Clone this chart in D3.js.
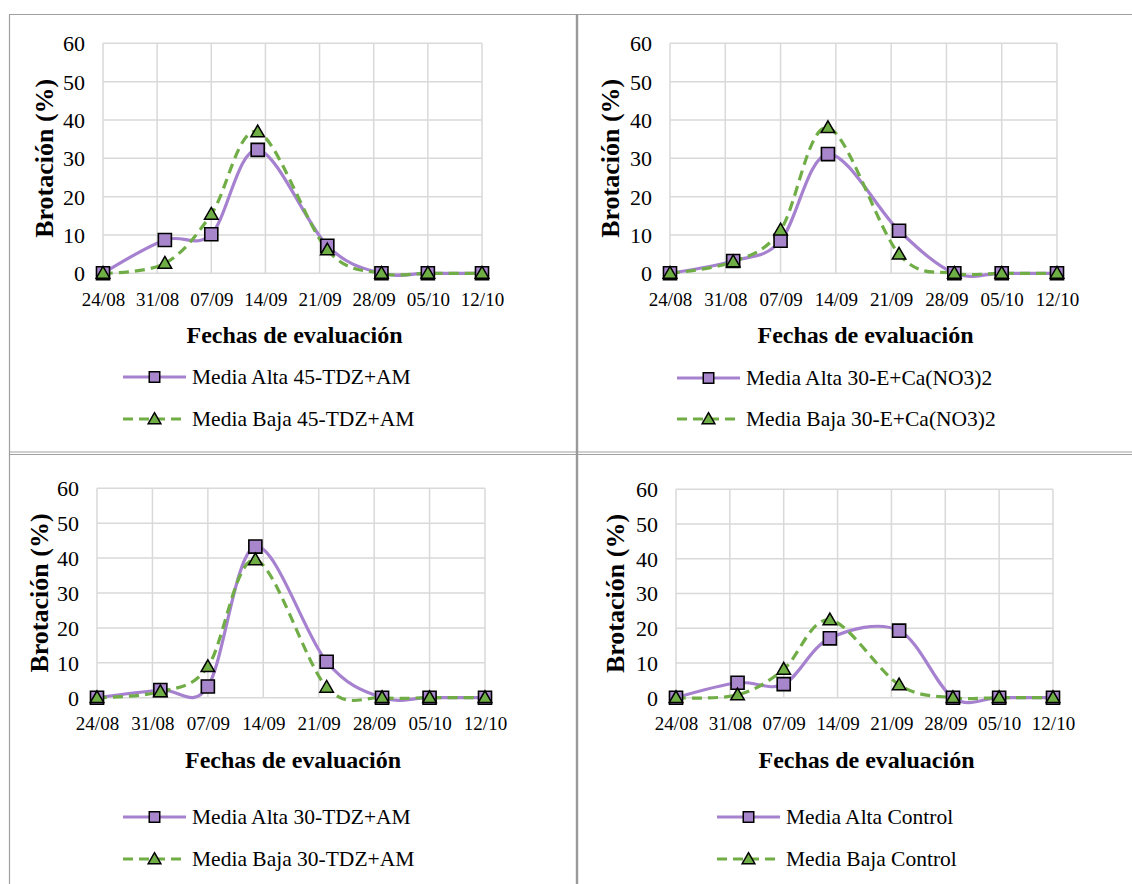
<!DOCTYPE html>
<html>
<head>
<meta charset="utf-8">
<script src="https://cdn.jsdelivr.net/npm/d3@7"></script>
<style>
  html, body { margin: 0; padding: 0; background: #fff; }
  svg { display: block; }
  text { font-family: "Liberation Serif", "Times New Roman", serif; fill: #000; }
</style>
</head>
<body>
<svg id="chart" width="1132" height="884"></svg>
<script>
// Evaluation dates (day/month) and axis tick dates
const sampleDates = ["24/08", "01/09", "07/09", "13/09", "22/09", "29/09", "05/10", "12/10"];
const tickDates   = ["24/08", "31/08", "07/09", "14/09", "21/09", "28/09", "05/10", "12/10"];
const yTicks = [0, 10, 20, 30, 40, 50, 60];

// Treatment names
const treatments = ["45-TDZ+AM", "30-E+Ca(NO3)2", "30-TDZ+AM", "Control"];

// Sprouting (%) per evaluation date
const altaTDZ45   = [0, 8.7, 10.2, 32.2, 7.2, 0, 0, 0];
const bajaTDZ45   = [0, 2.6, 15.4, 36.9, 6.1, 0, 0, 0];
const altaECa30   = [0, 3.2, 8.5, 31.1, 11.1, 0, 0, 0];
const bajaECa30   = [0, 3.0, 11.3, 38.0, 5.0, 0, 0, 0];
const altaTDZ30   = [0, 2.2, 3.2, 43.3, 10.3, 0, 0, 0];
const bajaTDZ30   = [0, 1.7, 8.9, 39.5, 3.0, 0, 0, 0];
const altaControl = [0, 4.3, 3.9, 17.1, 19.3, 0, 0, 0];
const bajaControl = [0, 0.8, 8.2, 22.4, 3.7, 0, 0, 0];

const altaSeries = [altaTDZ45, altaECa30, altaTDZ30, altaControl];
const bajaSeries = [bajaTDZ45, bajaECa30, bajaTDZ30, bajaControl];

const parseDM = s => d3.timeParse("%d/%m/%Y")(s + "/2021");

// Panel geometry
const panels = [
  { left: 103, right: 482,  top: 43.3,  bottom: 273.3, yTitleX: 44,  legendX: 123, legendY: [377, 419] },
  { left: 670, right: 1057, top: 43.3,  bottom: 273.3, yTitleX: 610, legendX: 677, legendY: [378, 419] },
  { left: 97,  right: 485,  top: 488.3, bottom: 697.7, yTitleX: 39,  legendX: 123, legendY: [817, 859] },
  { left: 676, right: 1053, top: 489.3, bottom: 697.7, yTitleX: 615, legendX: 717, legendY: [817, 859] }
];

const purple = "#A681CF";
const purpleFill = "#A886CC";
const green = "#70AD47";
const greenFill = "#6FAE45";

const svg = d3.select("#chart");

// Cell borders
const borders = svg.append("g").attr("fill", "none");
borders.append("line").attr("x1", 9).attr("x2", 1132).attr("y1", 14.5).attr("y2", 14.5).attr("stroke", "#a0a0a0").attr("stroke-width", 1.2);
borders.append("line").attr("x1", 9.5).attr("x2", 9.5).attr("y1", 14).attr("y2", 884).attr("stroke", "#a0a0a0").attr("stroke-width", 1.2);
borders.append("line").attr("x1", 9).attr("x2", 1132).attr("y1", 452).attr("y2", 452).attr("stroke", "#a0a0a0").attr("stroke-width", 1);
borders.append("line").attr("x1", 9).attr("x2", 1132).attr("y1", 454.5).attr("y2", 454.5).attr("stroke", "#a0a0a0").attr("stroke-width", 1);
borders.append("line").attr("x1", 577).attr("x2", 577).attr("y1", 14).attr("y2", 884).attr("stroke", "#9a9a9a").attr("stroke-width", 2.4);

const squareSym = d3.symbol().type(d3.symbolSquare);
const triSym = d3.symbol().type(d3.symbolTriangle);

panels.forEach((p, i) => {
  const g = svg.append("g");
  const x = d3.scaleTime()
    .domain([parseDM(tickDates[0]), parseDM(tickDates[tickDates.length - 1])])
    .range([p.left, p.right]);
  const y = d3.scaleLinear().domain([0, 60]).range([p.bottom, p.top]);

  // Gridlines
  g.append("g").selectAll("line").data(yTicks).join("line")
    .attr("x1", p.left).attr("x2", p.right)
    .attr("y1", d => y(d)).attr("y2", d => y(d))
    .attr("stroke", "#d9d9d9").attr("stroke-width", 1.5);
  g.append("g").selectAll("line").data(tickDates).join("line")
    .attr("x1", d => x(parseDM(d))).attr("x2", d => x(parseDM(d)))
    .attr("y1", p.top).attr("y2", p.bottom)
    .attr("stroke", "#d9d9d9").attr("stroke-width", 1.5);

  // Y axis
  const yAxis = d3.axisLeft(y).tickValues(yTicks).tickSize(0).tickPadding(18);
  const ya = g.append("g").attr("transform", `translate(${p.left},0)`).call(yAxis);
  ya.select(".domain").remove();
  ya.selectAll("text").style("font-family", "Liberation Serif").style("font-size", "22px").attr("fill", "#000").attr("dy", "0.34em");

  // X axis
  const xAxis = d3.axisBottom(x).tickValues(tickDates.map(parseDM)).tickFormat(d3.timeFormat("%d/%m")).tickSize(0).tickPadding(0);
  const xa = g.append("g").attr("transform", `translate(0,${p.bottom})`).call(xAxis);
  xa.select(".domain").remove();
  xa.selectAll("text").style("font-family", "Liberation Serif").style("font-size", "19px").attr("fill", "#000").attr("y", 32.5).attr("dy", 0);

  // Axis titles
  g.append("text")
    .attr("x", (p.left + p.right) / 2 + 2).attr("y", p.bottom + 70)
    .attr("text-anchor", "middle").style("font-weight", "bold").style("font-size", "24px")
    .text("Fechas de evaluación");
  g.append("text")
    .attr("transform", `translate(${p.yTitleX},${(p.top + p.bottom) / 2}) rotate(-90)`)
    .attr("text-anchor", "middle").attr("dy", "0.35em")
    .style("font-weight", "bold").style("font-size", "26px")
    .text("Brotación (%)");

  const line = d3.line()
    .x((d, j) => x(parseDM(sampleDates[j])))
    .y(d => y(d))
    .curve(d3.curveCardinal.tension(0));

  const alta = altaSeries[i], baja = bajaSeries[i];

  g.append("path").datum(alta).attr("d", line)
    .attr("fill", "none").attr("stroke", purple).attr("stroke-width", 3.2);
  g.append("path").datum(baja).attr("d", line)
    .attr("fill", "none").attr("stroke", green).attr("stroke-width", 3.2).attr("stroke-dasharray", "10,6");

  g.append("g").selectAll("path").data(alta).join("path")
    .attr("transform", (d, j) => `translate(${x(parseDM(sampleDates[j]))},${y(d)})`)
    .attr("d", squareSym.size(170)())
    .attr("fill", purpleFill).attr("stroke", "#000").attr("stroke-width", 1.6);
  g.append("g").selectAll("path").data(baja).join("path")
    .attr("transform", (d, j) => `translate(${x(parseDM(sampleDates[j]))},${y(d) + 1})`)
    .attr("d", triSym.size(80)())
    .attr("fill", greenFill).attr("stroke", "#000").attr("stroke-width", 1.5);

  // Legend
  const lg = g.append("g");
  const items = [
    { label: "Media Alta " + treatments[i], color: purple, dash: null, sym: "sq", yy: p.legendY[0] },
    { label: "Media Baja " + treatments[i], color: green, dash: "10,6", sym: "tri", yy: p.legendY[1] }
  ];
  items.forEach(it => {
    lg.append("line")
      .attr("x1", p.legendX).attr("x2", p.legendX + 63)
      .attr("y1", it.yy).attr("y2", it.yy)
      .attr("stroke", it.color).attr("stroke-width", 3.2)
      .attr("stroke-dasharray", it.dash);
    const cx = p.legendX + 31.5;
    if (it.sym === "sq") {
      lg.append("path").attr("transform", `translate(${cx},${it.yy})`)
        .attr("d", squareSym.size(110)())
        .attr("fill", purpleFill).attr("stroke", "#000").attr("stroke-width", 1.5);
    } else {
      lg.append("path").attr("transform", `translate(${cx},${it.yy + 1})`)
        .attr("d", triSym.size(70)())
        .attr("fill", greenFill).attr("stroke", "#000").attr("stroke-width", 1.5);
    }
    lg.append("text")
      .attr("x", p.legendX + 69).attr("y", it.yy).attr("dy", "0.34em")
      .style("font-size", "21.5px")
      .text(it.label);
  });
});
</script>
</body>
</html>
